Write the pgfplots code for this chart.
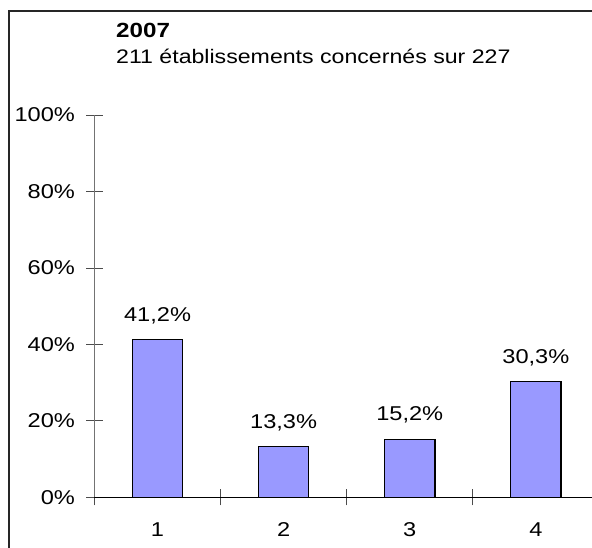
\documentclass[border=0pt]{standalone}
\usepackage{fontspec}
\setmainfont{Liberation Sans}[FakeStretch=1.18]
\usepackage{pgfplots}
\pgfplotsset{compat=1.18}
\definecolor{barfill}{HTML}{9999FF}
\begin{document}
\begin{tikzpicture}
\path[use as bounding box, clip] (0pt,0pt) rectangle (592pt,547pt);
\draw[line width=1.4pt, black!85] (9pt,-20pt) -- (9pt,536pt) -- (620pt,536pt);
\node[anchor=base west, inner sep=0, font=\fontsize{20.5}{24}\selectfont\bfseries] at (116pt,509.7pt) {2007};
\node[anchor=base west, inner sep=0, font=\fontsize{19.6}{23}\selectfont] at (116pt,483.7pt) {211 établissements concernés sur 227};
\begin{axis}[
  at={(94.5pt,49.7pt)}, anchor=south west,
  scale only axis, width=504.4pt, height=382.3pt,
  xmin=0.5, xmax=4.5, ymin=0, ymax=100,
  axis x line*=bottom, axis y line*=left,
  x axis line style={black, line width=1pt},
  y axis line style={black!55, line width=1pt},
  ybar, bar width=50.3pt,
  xtick={0.5,1.5,2.5,3.5,4.5}, x tick label as interval,
  xticklabels={1,2,3,4},
  ytick={0,20,40,60,80,100},
  yticklabels={0\%,20\%,40\%,60\%,80\%,100\%},
  tick align=center, major tick length=16pt,
  tick style={black!70, line width=0.8pt},
  tick label style={font=\fontsize{20}{24}\selectfont},
  xticklabel style={yshift=-14pt},
  yticklabel style={xshift=-8pt},
  nodes near coords, point meta=explicit symbolic,
  nodes near coords style={anchor=base, inner sep=0pt, yshift=18.3pt, font=\fontsize{20}{24}\selectfont},
  clip=false,
]
\addplot[fill=barfill, draw=black, line width=1.3pt] coordinates {
  (1,41.2) [{41,2\%}]
  (2,13.3) [{13,3\%}]
  (3,15.2) [{15,2\%}]
  (4,30.3) [{30,3\%}]
};
\end{axis}
\end{tikzpicture}
\end{document}
